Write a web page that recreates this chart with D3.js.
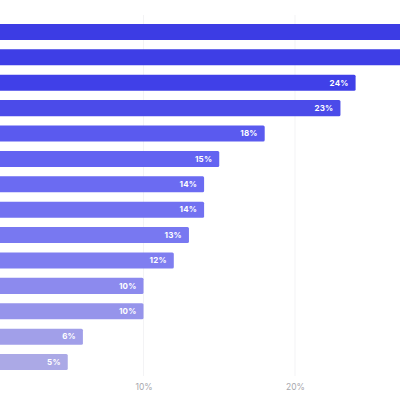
<!DOCTYPE html>
<html>
<head>
<meta charset="utf-8">
<script src="https://cdn.jsdelivr.net/npm/d3@7"></script>
<style>
  html, body { margin: 0; padding: 0; background: #fff; }
  svg { display: block; font-family: Inter, "Noto Sans", sans-serif; }
</style>
</head>
<body>
<svg id="chart" width="400" height="400"></svg>
<script>
const categories = ["A","B","C","D","E","F","G","H","I","J","K","L","M","N"];
const values = [31, 29, 24, 23, 18, 15, 14, 14, 13, 12, 10, 10, 6, 5];
const tickValues = [10, 20];
const tickLabels = ["10%", "20%"];

const svg = d3.select("#chart");
const W = 400, H = 400;

const x = d3.scaleLinear().domain([0, 10]).range([-8, 143.5]);
const y = d3.scaleBand().domain(categories).range([15.3, 378.7]).paddingInner(0.368).paddingOuter(0.34);

const color = d3.scaleLinear()
  .domain([0, 2, 3, 4, 6, 9, 10, 13])
  .range(["#3c3ce4", "#4040e8", "#4b4be9", "#5a5aef", "#6b6bf2", "#7f7ef0", "#8c8aee", "#aba9e6"]);

// gridlines
svg.append("g").selectAll("line").data(tickValues).join("line")
  .attr("x1", d => x(d)).attr("x2", d => x(d))
  .attr("y1", 15).attr("y2", 376)
  .attr("stroke", "#f3f3f5").attr("stroke-width", 1);

// axis
const axis = d3.axisBottom(x).tickValues(tickValues)
  .tickFormat((d, i) => tickLabels[i]).tickSize(0);
const ax = svg.append("g").attr("transform", "translate(0,381)").call(axis);
ax.select(".domain").remove();
ax.selectAll("text").attr("fill", "#a8a8ae").attr("font-size", 8.5)
  .attr("font-family", "Inter, sans-serif");

// bars
svg.append("g").selectAll("rect").data(values).join("rect")
  .attr("x", x(0))
  .attr("y", (d, i) => y(categories[i]))
  .attr("width", d => x(d) - x(0))
  .attr("height", y.bandwidth())
  .attr("rx", 1.5)
  .attr("fill", (d, i) => color(i));

// value labels (only those that fall inside the visible frame)
svg.append("g").selectAll("text").data(values.map((v, i) => ({v, i})).filter(d => x(d.v) - 7 <= W))
  .join("text")
  .attr("x", d => x(d.v) - 7)
  .attr("y", d => y(categories[d.i]) + y.bandwidth() / 2)
  .attr("dy", "0.35em")
  .attr("text-anchor", "end")
  .attr("fill", "#fff")
  .attr("font-size", 8)
  .attr("font-weight", 700)
  .attr("letter-spacing", 0.2)
  .text(d => d.v + "%");
</script>
</body>
</html>
